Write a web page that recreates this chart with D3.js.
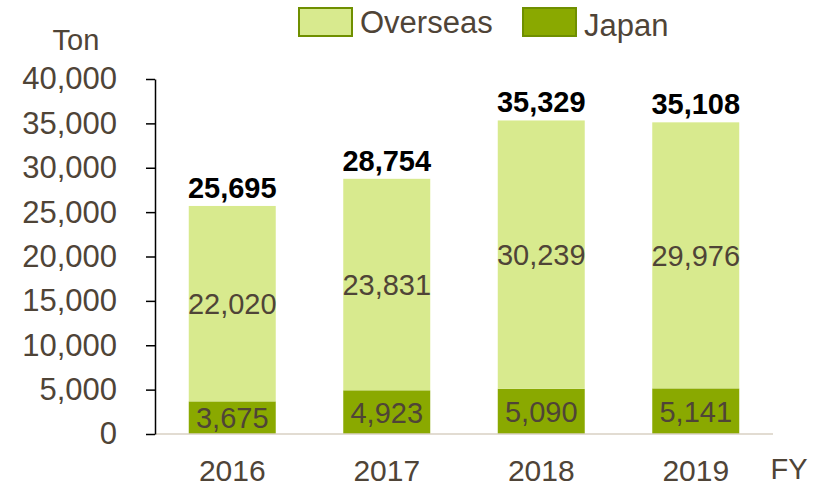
<!DOCTYPE html>
<html>
<head>
<meta charset="utf-8">
<script src="https://cdn.jsdelivr.net/npm/d3@7"></script>
<style>
  body { margin: 0; background: #fff; }
  svg text { font-family: "Liberation Sans", Arial, sans-serif; }
</style>
</head>
<body>
<div id="chart"></div>
<script>
// Data
const years = ['2016', '2017', '2018', '2019'];
const japan = [3675, 4923, 5090, 5141];
const overseas = [22020, 23831, 30239, 29976];
const totals = [25695, 28754, 35329, 35108];
const yTicks = [0, 5000, 10000, 15000, 20000, 25000, 30000, 35000, 40000];

const colors = { overseas: '#d8ea8e', japan: '#8aa900', text: '#4f4437' };

const width = 830, height = 486;
const margin = { top: 79, right: 57, bottom: 52, left: 155 };
const plotW = width - margin.left - margin.right;
const plotH = height - margin.top - margin.bottom;

const svg = d3.select('#chart')
  .append('svg')
  .attr('width', width)
  .attr('height', height);

const g = svg.append('g')
  .attr('transform', `translate(${margin.left},${margin.top})`);

const x = d3.scaleBand()
  .domain(years)
  .range([0, plotW])
  .paddingInner(0.437)
  .paddingOuter(0.2185);

const y = d3.scaleLinear()
  .domain([0, 40000])
  .range([plotH, 0]);

const fmt = d3.format(',');

// Stacked bars
g.selectAll('.bar-japan')
  .data(years)
  .enter()
  .append('rect')
  .attr('x', d => x(d))
  .attr('width', x.bandwidth())
  .attr('y', (d, i) => y(japan[i]))
  .attr('height', (d, i) => plotH - y(japan[i]))
  .attr('fill', colors.japan);

g.selectAll('.bar-overseas')
  .data(years)
  .enter()
  .append('rect')
  .attr('x', d => x(d))
  .attr('width', x.bandwidth())
  .attr('y', (d, i) => y(japan[i] + overseas[i]))
  .attr('height', (d, i) => y(japan[i]) - y(japan[i] + overseas[i]))
  .attr('fill', colors.overseas);

// Baseline
g.append('line')
  .attr('x1', 0).attr('x2', plotW)
  .attr('y1', plotH).attr('y2', plotH)
  .attr('stroke', '#d9d0c3')
  .attr('stroke-width', 1.5);

// Y axis
const yAxis = g.append('g')
  .call(d3.axisLeft(y).tickValues(yTicks).tickSize(9).tickSizeOuter(0).tickFormat(fmt));
yAxis.select('.domain').attr('stroke', '#000').attr('stroke-width', 1.5);
yAxis.selectAll('.tick line').attr('stroke', '#000').attr('stroke-width', 1.5);
yAxis.selectAll('.tick text')
  .attr('x', -38)
  .attr('fill', colors.text)
  .style('font-size', '31px');

// X labels
g.selectAll('.year')
  .data(years)
  .enter()
  .append('text')
  .attr('x', d => x(d) + x.bandwidth() / 2)
  .attr('y', plotH + 47)
  .attr('text-anchor', 'middle')
  .attr('fill', colors.text)
  .style('font-size', '30px')
  .text(d => d);

// Segment labels
g.selectAll('.lbl-japan')
  .data(years)
  .enter()
  .append('text')
  .attr('x', d => x(d) + x.bandwidth() / 2)
  .attr('y', (d, i) => (y(japan[i]) + plotH) / 2)
  .attr('dy', '0.36em')
  .attr('text-anchor', 'middle')
  .attr('fill', colors.text)
  .style('font-size', '29px')
  .text((d, i) => fmt(japan[i]));

g.selectAll('.lbl-overseas')
  .data(years)
  .enter()
  .append('text')
  .attr('x', d => x(d) + x.bandwidth() / 2)
  .attr('y', (d, i) => (y(japan[i]) + y(japan[i] + overseas[i])) / 2)
  .attr('dy', '0.36em')
  .attr('text-anchor', 'middle')
  .attr('fill', colors.text)
  .style('font-size', '29px')
  .text((d, i) => fmt(overseas[i]));

// Totals
g.selectAll('.lbl-total')
  .data(years)
  .enter()
  .append('text')
  .attr('x', d => x(d) + x.bandwidth() / 2)
  .attr('y', (d, i) => y(totals[i]) - 8)
  .attr('text-anchor', 'middle')
  .attr('fill', '#000')
  .style('font-size', '29px')
  .style('font-weight', 'bold')
  .text((d, i) => fmt(totals[i]));

// Axis titles
svg.append('text')
  .attr('x', 76).attr('y', 50)
  .attr('text-anchor', 'middle')
  .attr('fill', colors.text)
  .style('font-size', '29px')
  .text('Ton');

svg.append('text')
  .attr('x', 789).attr('y', 479)
  .attr('text-anchor', 'middle')
  .attr('fill', colors.text)
  .style('font-size', '29px')
  .text('FY');

// Legend
const legend = [
  { label: 'Overseas', fill: colors.overseas, x: 299, ty: 33 },
  { label: 'Japan', fill: colors.japan, x: 523, ty: 36 }
];
const lg = svg.selectAll('.legend')
  .data(legend)
  .enter()
  .append('g');
lg.append('rect')
  .attr('x', d => d.x)
  .attr('y', 8)
  .attr('width', 53)
  .attr('height', 28)
  .attr('fill', d => d.fill)
  .attr('stroke', '#6f8f00')
  .attr('stroke-width', 2);
lg.append('text')
  .attr('x', d => d.x + 61)
  .attr('y', d => d.ty)
  .attr('fill', colors.text)
  .style('font-size', '31px')
  .text(d => d.label);
</script>
</body>
</html>
